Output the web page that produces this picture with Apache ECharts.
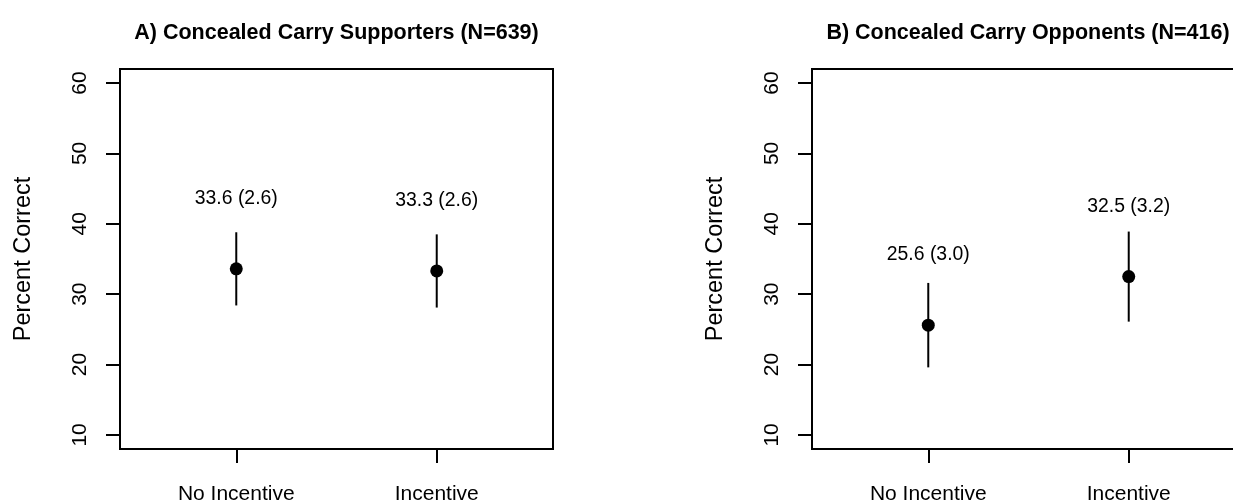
<!DOCTYPE html>
<html>
<head>
<meta charset="utf-8">
<title>Concealed Carry: Percent Correct by Incentive</title>
<script src="https://cdn.jsdelivr.net/npm/echarts@6/dist/echarts.min.js"></script>
<style>
  html, body { margin: 0; padding: 0; background: #fff; }
  #chart { width: 1233px; height: 504px; }
</style>
</head>
<body>
<div id="chart"></div>
<script>
// Conditions along the x axis
const categories = ['No Incentive', 'Incentive'];

// Panel A: concealed carry supporters
const supportersTitle = 'A) Concealed Carry Supporters (N=639)';
const supportersMean = [33.6, 33.3];
const supportersSE = [2.6, 2.6];

// Panel B: concealed carry opponents
const opponentsTitle = 'B) Concealed Carry Opponents (N=416)';
const opponentsMean = [25.6, 32.5];
const opponentsSE = [3.0, 3.2];

// Axis ticks
const yTicks = [10, 20, 30, 40, 50, 60];
const xTicks = [1, 2];
const yLabelText = 'Percent Correct';

// Drawing constants
const FONT = '"Liberation Sans", Arial, Helvetica, sans-serif';
const SE_MULT = 2;        // whiskers span mean ± 2 SE
const LABEL_RISE = 10;    // value labels sit 10 points above the mean
const Y_MIN = 8, Y_MAX = 62;
const X_MIN = 0.42, X_MAX = 2.58;

const panels = [
  { title: supportersTitle, mean: supportersMean, se: supportersSE, left: 120, center: 336.5 },
  { title: opponentsTitle, mean: opponentsMean, se: opponentsSE, left: 812, center: 1028 }
];

const grids = [], xAxes = [], yAxes = [], series = [], titles = [];

panels.forEach((p, i) => {
  grids.push({
    left: p.left, top: 69, width: 433, height: 380,
    outerBoundsMode: 'none', containLabel: false,
    show: true, borderColor: '#000', borderWidth: 2, backgroundColor: 'transparent'
  });
  titles.push({
    text: p.title, left: p.center, top: 22, textAlign: 'center', padding: 0,
    textStyle: { fontFamily: FONT, fontSize: 21.5, fontWeight: 'bold', color: '#000' }
  });
  xAxes.push({
    type: 'value', gridIndex: i, min: X_MIN, max: X_MAX,
    axisLine: { show: true, onZero: false, lineStyle: { color: '#000', width: 2 } },
    axisTick: { show: true, customValues: xTicks, length: 14, lineStyle: { color: '#000', width: 2 } },
    axisLabel: {
      customValues: xTicks, margin: 35, color: '#000', fontFamily: FONT, fontSize: 21,
      formatter: v => categories[Math.round(v) - 1] || ''
    },
    splitLine: { show: false }
  });
  yAxes.push({
    type: 'value', gridIndex: i, min: Y_MIN, max: Y_MAX,
    name: yLabelText, nameLocation: 'middle', nameRotate: 90, nameGap: 84,
    nameTextStyle: { fontFamily: FONT, fontSize: 23.5, color: '#000' },
    axisLine: { show: true, onZero: false, lineStyle: { color: '#000', width: 2 } },
    axisTick: { show: true, customValues: yTicks, length: 14, lineStyle: { color: '#000', width: 2 } },
    axisLabel: {
      customValues: yTicks, rotate: 90, margin: 29, color: '#000', fontFamily: FONT, fontSize: 21
    },
    splitLine: { show: false }
  });

  // whiskers: mean ± 2 SE
  series.push({
    type: 'custom', xAxisIndex: i, yAxisIndex: i, silent: true,
    data: p.mean.map((m, k) => [xTicks[k], m - SE_MULT * p.se[k], m + SE_MULT * p.se[k]]),
    renderItem: (params, api) => {
      const lo = api.coord([api.value(0), api.value(1)]);
      const hi = api.coord([api.value(0), api.value(2)]);
      return {
        type: 'line',
        shape: { x1: lo[0], y1: lo[1], x2: hi[0], y2: hi[1] },
        style: { stroke: '#000', lineWidth: 2 }
      };
    },
    z: 2
  });
  // point estimates
  series.push({
    type: 'scatter', xAxisIndex: i, yAxisIndex: i, silent: true,
    symbol: 'circle', symbolSize: 13,
    itemStyle: { color: '#000', opacity: 1 },
    data: p.mean.map((m, k) => [xTicks[k], m]),
    z: 3
  });
  // "mean (SE)" labels above each estimate
  series.push({
    type: 'scatter', xAxisIndex: i, yAxisIndex: i, silent: true,
    symbolSize: 0,
    itemStyle: { opacity: 1 },
    data: p.mean.map((m, k) => ({ value: [xTicks[k], m + LABEL_RISE], mean: m, se: p.se[k] })),
    label: {
      show: true, position: 'inside', color: '#000', opacity: 1, fontFamily: FONT, fontSize: 19.4,
      formatter: d => d.data.mean.toFixed(1) + ' (' + d.data.se.toFixed(1) + ')'
    },
    z: 4
  });
});

const chart = echarts.init(document.getElementById('chart'), null, { renderer: 'canvas' });
chart.setOption({
  backgroundColor: '#fff',
  animation: false,
  title: titles,
  grid: grids,
  xAxis: xAxes,
  yAxis: yAxes,
  series: series
});
</script>
</body>
</html>
